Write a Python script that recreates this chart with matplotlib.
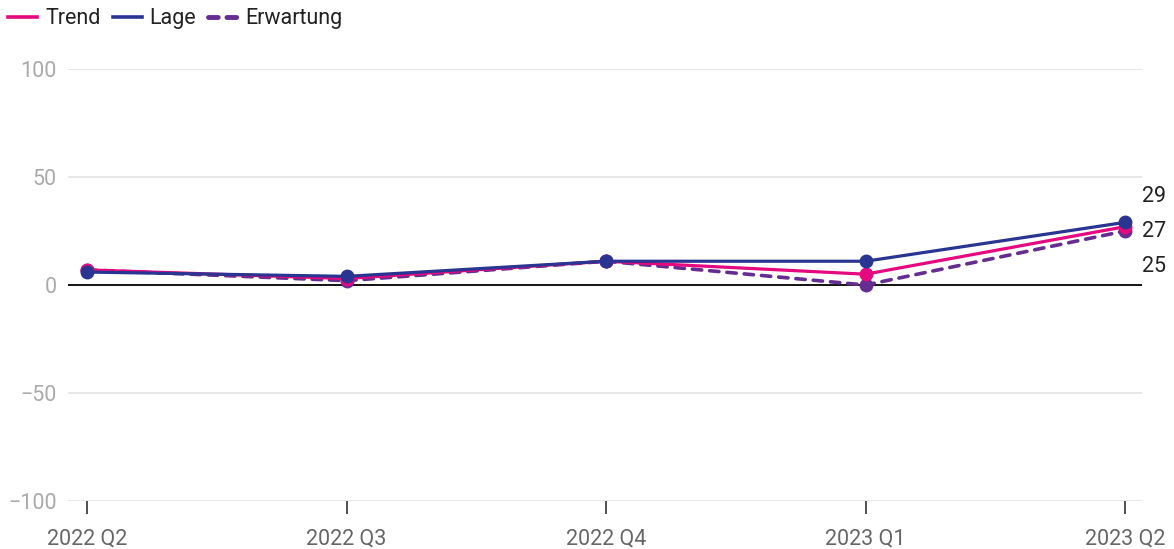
import matplotlib
matplotlib.use('Agg')
import matplotlib.pyplot as plt
from matplotlib.lines import Line2D

plt.rcParams['font.family'] = ['Roboto', 'DejaVu Sans']

# Data
quarters = ['2022 Q2', '2022 Q3', '2022 Q4', '2023 Q1', '2023 Q2']
trend = [7, 3, 11, 5, 27]
lage = [6, 4, 11, 11, 29]
erwartung = [7, 2, 11, 0, 25]
y_ticks = [-100, -50, 0, 50, 100]

c_trend = '#E5097F'
c_lage = '#2A3591'
c_erw = '#662D91'

fig = plt.figure(figsize=(11.74, 5.49), dpi=100)
ax = fig.add_axes([68 / 1174, 48 / 549, 1074 / 1174, 432 / 549])

x = list(range(len(quarters)))

# gridlines
for yt in y_ticks:
    if yt != 0:
        ax.axhline(yt, color='#e3e3e3', linewidth=1.2, zorder=0)
ax.axhline(0, color='black', linewidth=1.3, zorder=1)

ax.plot(x, erwartung, color=c_erw, linewidth=2.6, linestyle=(0, (2.6, 2.2)),
        dash_capstyle='round', marker='o', markersize=9, zorder=3)
ax.plot(x, trend, color=c_trend, linewidth=2.3, marker='o', markersize=9,
        zorder=4)
ax.plot(x, lage, color=c_lage, linewidth=2.3, marker='o', markersize=9,
        zorder=5)

ax.set_xlim(-19 / 259.5, 4 + 17 / 259.5)
ax.set_ylim(-100, 100)

ax.set_xticks(x)
ax.set_xticklabels(quarters, fontsize=15.5, color='#666666')
ax.set_yticks(y_ticks)
ax.set_yticklabels(['\u2212100', '\u221250', '0', '50', '100'], fontsize=15.5,
                   color='#aaaaaa')
ax.tick_params(axis='y', length=0, pad=8)
ax.tick_params(axis='x', length=9, width=1.2, color='#333333', pad=11)
for s in ax.spines.values():
    s.set_visible(False)

# end labels (spread apart to avoid overlap)
end_vals = [lage[-1], trend[-1], erwartung[-1]]
offsets = [21.5, -3.5, -28.5]
for v, off in zip(end_vals, offsets):
    ax.annotate(str(v), xy=(x[-1], trend[-1]), xytext=(12, off),
                textcoords='offset points', fontsize=15.5, color='#222222',
                va='center', ha='left', annotation_clip=False)

handles = [
    Line2D([0], [0], color=c_trend, linewidth=2.6),
    Line2D([0], [0], color=c_lage, linewidth=2.6),
    Line2D([0], [0], color=c_erw, linewidth=3.5, linestyle=(0, (2, 1.8)),
           dash_capstyle='round'),
]
fig.legend(handles, ['Trend', 'Lage', 'Erwartung'], loc='upper left',
           bbox_to_anchor=(6 / 1174, 1 - 6 / 549), ncol=3, frameon=False,
           fontsize=15.5, handlelength=1.35, handletextpad=0.37,
           columnspacing=0.56, borderpad=0.1, borderaxespad=0,
           labelcolor='#222222')

fig.savefig('out.png', dpi=100)
